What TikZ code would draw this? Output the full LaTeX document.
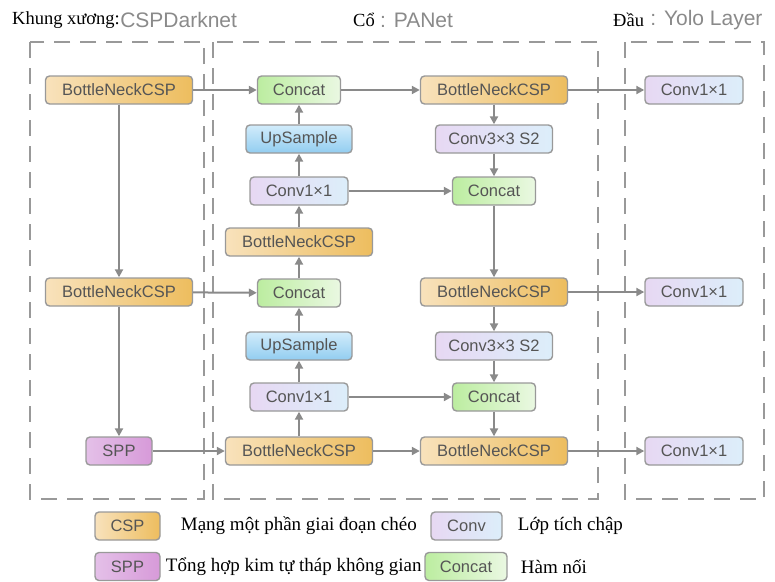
\documentclass[tikz,border=0pt]{standalone}
\usepackage{fontspec}
\setmainfont{Liberation Serif}
\setsansfont{Liberation Sans}
\usepackage{tikz}
\usetikzlibrary{arrows.meta}
\usetikzlibrary{positioning}
\usepackage{xcolor}

\definecolor{cspL}{HTML}{F8E2BC}
\definecolor{cspR}{HTML}{EDBD5E}
\definecolor{catL}{HTML}{BCEDA0}
\definecolor{catR}{HTML}{EAF8E2}
\definecolor{convL}{HTML}{E7D8F3}
\definecolor{convR}{HTML}{DCEEFA}
\definecolor{upT}{HTML}{D2ECFB}
\definecolor{upB}{HTML}{92CDF0}
\definecolor{sppL}{HTML}{E4C0E8}
\definecolor{sppR}{HTML}{D79AD9}
\definecolor{frame}{HTML}{999999}
\definecolor{wire}{HTML}{8A8A8A}
\definecolor{label}{HTML}{555555}
\definecolor{title}{HTML}{8A8A8A}

\tikzset{
	block/.style={draw=frame, line width=1.4pt, rounded corners=4pt,
		minimum height=28pt, inner xsep=0pt, text=label,
		font=\sffamily\fontsize{16.5}{18}\selectfont},
	csp/.style={block, left color=cspL, right color=cspR, minimum width=147pt},
	concat/.style={block, left color=catL, right color=catR, minimum width=83pt},
	conv/.style={block, left color=convL, right color=convR, minimum width=98pt},
	upsample/.style={block, top color=upT, bottom color=upB, minimum width=106pt},
	spp/.style={block, left color=sppL, right color=sppR, minimum width=66pt},
	stage/.style={draw=frame, line width=2.4pt, dash pattern=on 16pt off 10pt},
	flow/.style={draw=wire, line width=2pt, -{Triangle[length=8pt,width=8pt]}},
	caption/.style={inner sep=0pt, anchor=west, font=\fontsize{19}{22}\selectfont},
	heading/.style={inner sep=0pt, anchor=west, font=\fontsize{18.5}{21}\selectfont},
	part/.style={inner sep=0pt, anchor=west, text=title, font=\sffamily\fontsize{21}{24}\selectfont}
}

\begin{document}
\begin{tikzpicture}[x=1pt, y=-1pt]
	\useasboundingbox (0,0) rectangle (775,581);

	% stages
	\draw[stage] (30,42) rectangle (204,499);
	\draw[stage] (213,42) rectangle (598,499);
	\draw[stage] (625,42) rectangle (764,499);

	\node[heading] (backboneHead) at (12,20) {Khung xương:};
	\node[part] (backboneName) [right=0pt of backboneHead] {CSPDarknet};
	\node[heading] (neckHead) at (353,20) {Cổ};
	\node[part] (neckName) [right=5pt of neckHead] {: PANet};
	\node[heading] (headHead) at (613,20) {Đầu};
	\node[part] (headName) [right=6pt of headHead] {: Yolo Layer};

	% backbone
	\node[csp] (backCsp1) at (119,90) {BottleNeckCSP};
	\node[csp] (backCsp2) at (119,292) {BottleNeckCSP};
	\node[spp] (backSpp) at (119,451) {SPP};

	% neck, up path
	\node[concat] (upConcat1) at (299,90) {Concat};
	\node[upsample] (upSample1) at (299,139) {UpSample};
	\node[conv] (upConv1) at (299,191) {Conv1×1};
	\node[csp] (upCsp) at (299,242) {BottleNeckCSP};
	\node[concat] (upConcat2) at (299,293) {Concat};
	\node[upsample] (upSample2) at (299,346) {UpSample};
	\node[conv] (upConv2) at (299,397) {Conv1×1};
	\node[csp] (upCsp2) at (299,451) {BottleNeckCSP};

	% neck, down path
	\node[csp] (downCsp1) at (494,90) {BottleNeckCSP};
	\node[conv, minimum width=117pt] (downConv1) at (494,139) {Conv3×3 S2};
	\node[concat] (downConcat1) at (494,191) {Concat};
	\node[csp] (downCsp2) at (494,292) {BottleNeckCSP};
	\node[conv, minimum width=117pt] (downConv2) at (494,346) {Conv3×3 S2};
	\node[concat] (downConcat2) at (494,397) {Concat};
	\node[csp] (downCsp3) at (494,451) {BottleNeckCSP};

	% head
	\node[conv] (headConv1) at (694,90) {Conv1×1};
	\node[conv] (headConv2) at (694,292) {Conv1×1};
	\node[conv] (headConv3) at (694,451) {Conv1×1};

	\foreach \from/\to in {backCsp1/backCsp2, backCsp2/backSpp, backCsp1/upConcat1,
		backCsp2/upConcat2, backSpp/upCsp2, upCsp2/upConv2, upConv2/upSample2,
		upSample2/upConcat2, upConcat2/upCsp, upCsp/upConv1, upConv1/upSample1,
		upSample1/upConcat1, upConcat1/downCsp1, downCsp1/downConv1,
		downConv1/downConcat1, upConv1/downConcat1, downConcat1/downCsp2,
		downCsp2/downConv2, downConv2/downConcat2, upConv2/downConcat2,
		downConcat2/downCsp3, upCsp2/downCsp3, downCsp1/headConv1,
		downCsp2/headConv2, downCsp3/headConv3}
		\draw[flow] (\from) -- (\to);

	% legend
	\node[csp, minimum width=65pt] (keyCsp) at (127.5,526) {CSP};
	\node[caption] (keyCspText) [right=20pt of keyCsp] {Mạng một phần giai đoạn chéo};
	\node[spp, minimum width=65pt] (keySpp) at (127.5,566.5) {SPP};
	\node[caption] (keySppText) [right=5pt of keySpp] {Tổng hợp kim tự tháp không gian};
	\node[conv, minimum width=71pt] (keyConv) at (466.5,526) {Conv};
	\node[caption] (keyConvText) [right=15pt of keyConv] {Lớp tích chập};
	\node[concat, minimum width=82pt] (keyConcat) at (466,566.5) {Concat};
	\node[caption] (keyConcatText) [right=13pt of keyConcat] {Hàm nối};
\end{tikzpicture}
\end{document}
